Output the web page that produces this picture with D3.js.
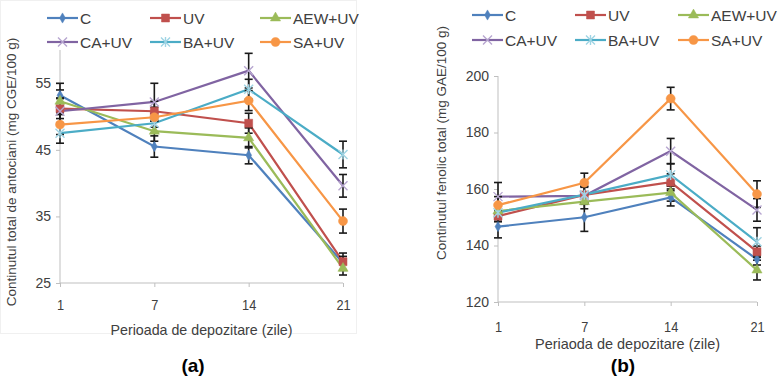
<!DOCTYPE html>
<html>
<head>
  <meta charset="utf-8">
  <title>Antociani / fenoli</title>
  <style>
    body { margin: 0; background: #fff; }
    svg text { font-family: "Liberation Sans", Arial, sans-serif; fill: #404040; }
  </style>
</head>
<body>
  <script src="https://d3js.org/d3.v7.min.js"></script>
  <script>

  // zile de depozitare
  var days = ['1', '7', '14', '21'];
  var series = ['C', 'UV', 'AEW+UV', 'CA+UV', 'BA+UV', 'SA+UV'];

  // (a) antociani, mg CGE/100 g
  var antC   = [53.2, 45.5, 44.2, 28.0],
      antUV  = [51.2, 50.8, 49.0, 28.2],
      antAEW = [52.3, 47.8, 46.8, 27.2],
      antCA  = [50.8, 52.2, 56.9, 39.6],
      antBA  = [47.5, 49.0, 54.1, 44.3],
      antSA  = [48.8, 49.9, 52.4, 34.3];
  var antErr = [
    [1.8, 1.6, 1.3, 1.0],
    [1.5, 1.5, 1.5, 1.3],
    [1.7, 1.5, 1.5, 1.0],
    [2.0, 2.8, 2.6, 1.7],
    [1.5, 1.5, 1.5, 2.0],
    [1.5, 1.5, 1.5, 1.8]
  ];
  var antTicks = [25, 35, 45, 55];

  // (b) fenoli totali, mg GAE/100 g
  var fenC   = [146.7, 150.0, 157.0, 135.1],
      fenUV  = [150.4, 157.9, 162.4, 137.8],
      fenAEW = [152.2, 155.5, 158.7, 131.3],
      fenCA  = [157.3, 157.6, 173.4, 152.6],
      fenBA  = [151.6, 158.0, 165.0, 141.3],
      fenSA  = [154.3, 162.2, 192.0, 158.2];
  var fenErr = [
    [4, 5, 3, 2],
    [2, 3, 3, 2],
    [2, 2.5, 3, 3.5],
    [5, 3, 4.5, 4],
    [3, 3, 4, 5],
    [3, 3.4, 4, 4.7]
  ];
  var fenTicks = [120, 140, 160, 180, 200];

  var colors  = ['#4F81BD', '#C0504D', '#9BBB59', '#8064A2', '#4BACC6', '#F79646'];
  var symbols = ['diamond', 'square', 'triangle', 'x', 'star', 'circle'];

  var svg = d3.select('body').append('svg')
      .attr('width', 781).attr('height', 380);

  // faint chart-area border around (a)
  svg.append('rect')
     .attr('x', 0.5).attr('y', 0.5).attr('width', 356).attr('height', 333)
     .attr('fill', 'none').attr('stroke', '#f0f0f0');

  drawPanel({
    values: [antC, antUV, antAEW, antCA, antBA, antSA],
    err: antErr, ticks: antTicks, domain: [25, 60],
    x0: 60, x1: 343, yBot: 283, yTop: 50, tickPad: 12,
    ytitle: 'Continutul total de antociani (mg CGE/100 g)', ytitleX: 16, ytitleY: 172,
    xtitle: 'Perioada de depozitare (zile)', xtitleY: 335, xtitleW: 182,
    legendX: [47, 150, 260], legendY: [18, 42],
    label: '(a)', labelX: 193
  });

  drawPanel({
    values: [fenC, fenUV, fenAEW, fenCA, fenBA, fenSA],
    err: fenErr, ticks: fenTicks, domain: [120, 200],
    x0: 498, x1: 757, yBot: 302, yTop: 76, tickPad: 15,
    ytitle: 'Continutul fenolic total (mg GAE/100 g)', ytitleX: 446, ytitleY: 143,
    xtitle: 'Periaoda de depozitare (zile)', xtitleY: 349, xtitleW: 185,
    legendX: [472, 575, 678], legendY: [15, 40],
    label: '(b)', labelX: 623
  });

  function drawPanel(p){
    var x = d3.scalePoint().domain(days).range([p.x0, p.x1]);
    var y = d3.scaleLinear().domain(p.domain).range([p.yBot, p.yTop]);
    var g = svg.append('g');

    // axes
    var ya = g.append('g').attr('transform', 'translate(' + p.x0 + ',0)')
      .call(d3.axisLeft(y).tickValues(p.ticks).tickSize(4).tickPadding(5));
    var xa = g.append('g').attr('transform', 'translate(0,' + p.yBot + ')')
      .call(d3.axisBottom(x).tickSize(4).tickSizeOuter(0).tickPadding(p.tickPad));
    [ya, xa].forEach(function(a){
      a.selectAll('path, line').attr('stroke', '#bfbfbf');
      a.selectAll('text').attr('font-size', 14).attr('fill', '#404040')
        .style('font-family', '"Liberation Sans", Arial, sans-serif');
    });
    xa.select('.domain').attr('d', 'M' + p.x0 + ',0H' + p.x1);
    // narrow-looking day labels
    xa.selectAll('.tick text').attr('font-size', 15).attr('transform', 'scale(0.85,1)');
    ya.select('.domain').attr('d', 'M0,' + p.yBot + 'V' + p.yTop);

    // lines
    var line = d3.line().x(function(d, i){ return x(days[i]); }).y(function(d){ return y(d); });
    p.values.forEach(function(vals, s){
      g.append('path').datum(vals).attr('d', line)
        .attr('fill', 'none').attr('stroke', colors[s]).attr('stroke-width', 2.2);
    });

    // error bars
    p.values.forEach(function(vals, s){
      vals.forEach(function(v, i){
        var cx = x(days[i]), e = p.err[s][i];
        var eb = g.append('g').attr('stroke', '#1a1a1a').attr('stroke-width', 1.6);
        eb.append('line').attr('x1', cx).attr('x2', cx).attr('y1', y(v - e)).attr('y2', y(v + e));
        [v - e, v + e].forEach(function(t){
          eb.append('line').attr('x1', cx - 4).attr('x2', cx + 4).attr('y1', y(t)).attr('y2', y(t));
        });
      });
    });

    // markers
    p.values.forEach(function(vals, s){
      vals.forEach(function(v, i){
        marker(g, x(days[i]), y(v), s);
      });
    });

    // y title
    g.append('text')
      .attr('transform', 'translate(' + p.ytitleX + ',' + p.ytitleY + ') rotate(-90)')
      .attr('text-anchor', 'middle').attr('font-size', 13.5)
      .text(p.ytitle);

    // x title
    g.append('text')
      .attr('x', (p.x0 + p.x1) / 2 - p.xtitleW / 2).attr('y', p.xtitleY)
      .attr('font-size', 15)
      .attr('textLength', p.xtitleW).attr('lengthAdjust', 'spacingAndGlyphs')
      .text(p.xtitle);

    // panel label
    g.append('text')
      .attr('x', p.labelX).attr('y', 372)
      .attr('text-anchor', 'middle').attr('font-size', 19).attr('font-weight', 'bold')
      .style('fill', '#000')
      .text(p.label);

    // legend
    series.forEach(function(name, s){
      var lx = p.legendX[s % 3], ly = p.legendY[Math.floor(s / 3)];
      g.append('line').attr('x1', lx).attr('x2', lx + 31).attr('y1', ly).attr('y2', ly)
        .attr('stroke', colors[s]).attr('stroke-width', 2.2);
      marker(g, lx + 15.5, ly, s);
      g.append('text').attr('x', lx + 33).attr('y', ly + 5.5)
        .attr('font-size', 15.5).text(name);
    });
  }

  function marker(g, cx, cy, s){
    var c = colors[s];
    if (symbols[s] === 'x') {
      g.append('path').attr('transform', 'translate(' + cx + ',' + cy + ')')
        .attr('d', 'M-4.5,-4.5L4.5,4.5M-4.5,4.5L4.5,-4.5')
        .attr('stroke', '#b7a6d0').attr('stroke-width', 1.4).attr('fill', 'none');
    } else if (symbols[s] === 'star') {
      g.append('path').attr('transform', 'translate(' + cx + ',' + cy + ')')
        .attr('d', 'M-4.5,-4.5L4.5,4.5M-4.5,4.5L4.5,-4.5M0,-5V5')
        .attr('stroke', '#9fd4e4').attr('stroke-width', 1.4).attr('fill', 'none');
    } else {
      var sym = { diamond: d3.symbolDiamond, square: d3.symbolSquare,
                  triangle: d3.symbolTriangle, circle: d3.symbolCircle }[symbols[s]];
      var size = { diamond: 30, square: 64, triangle: 45, circle: 64 }[symbols[s]];
      g.append('path').attr('transform', 'translate(' + cx + ',' + cy + ')')
        .attr('d', d3.symbol().type(sym).size(size)())
        .attr('fill', c).attr('stroke', c).attr('stroke-width', 0.5);
    }
  }

  </script>
</body>
</html>
